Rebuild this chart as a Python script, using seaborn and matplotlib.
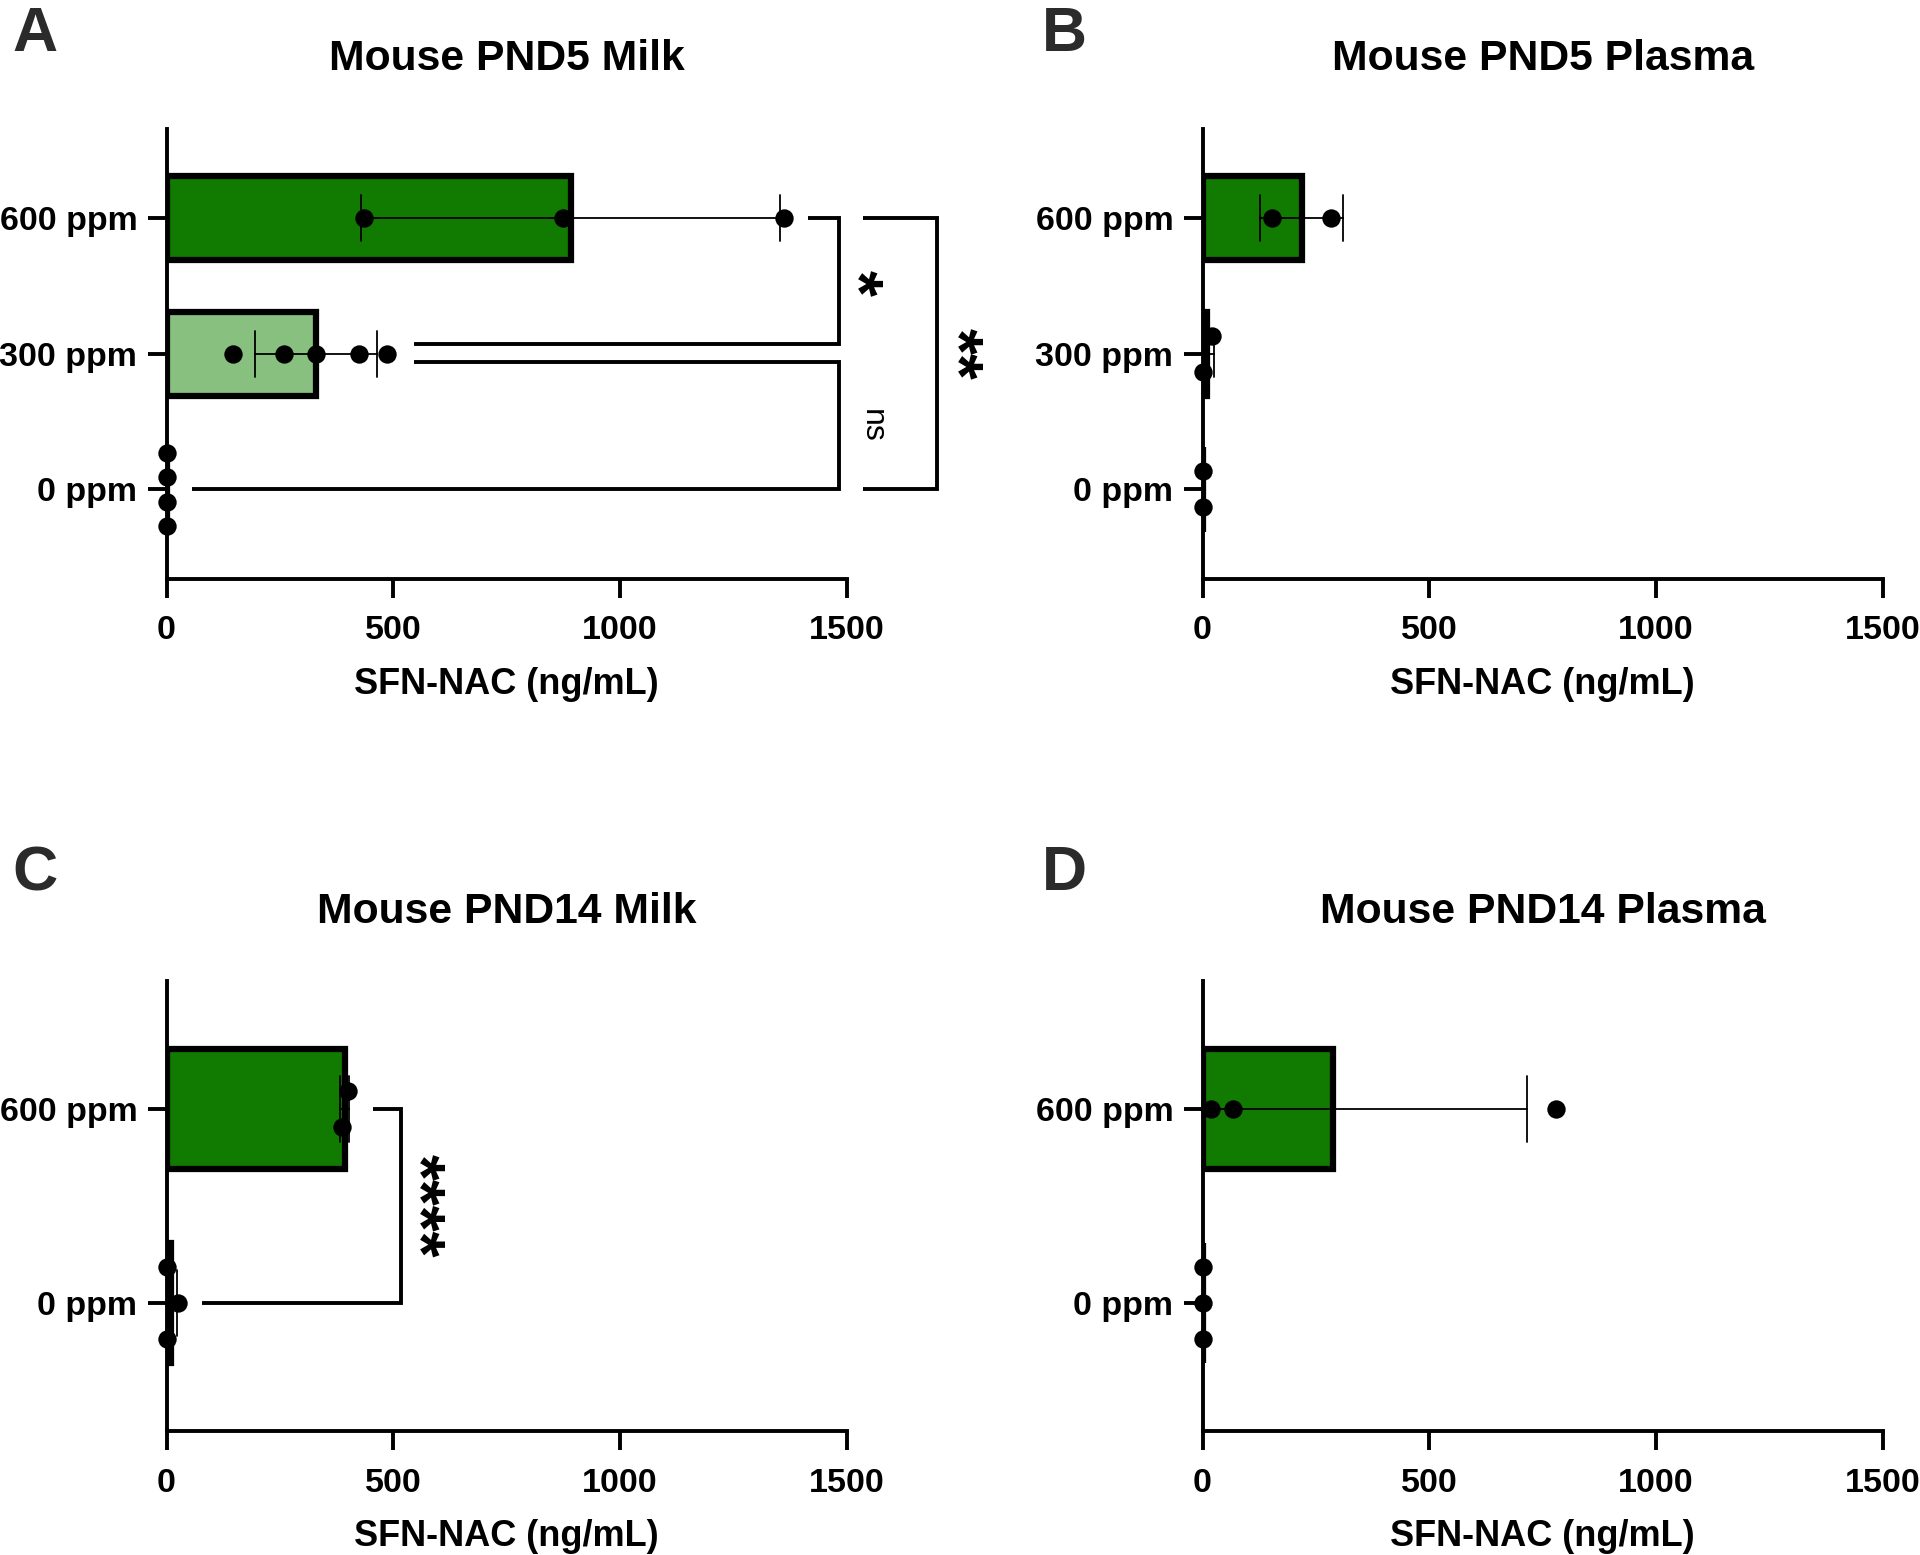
import numpy as np
import pandas as pd
import matplotlib
matplotlib.use("Agg")
import matplotlib.pyplot as plt
import matplotlib.transforms as mtransforms
import seaborn as sns

# ---------------- data ----------------
groups_3 = ["600 ppm", "300 ppm", "0 ppm"]
groups_2 = ["600 ppm", "0 ppm"]

a_600 = [436, 875, 1361]
a_300 = [146, 259, 329, 424, 486]
a_0 = [0, 0, 0, 0]

b_600 = [154, 283]
b_300 = [21, 0]
b_0 = [0, 0]

c_600 = [400, 386]
c_0 = [2, 25, 0]

d_600 = [19, 67, 780]
d_0 = [0, 0, 0]

titles = ["Mouse PND5 Milk", "Mouse PND5 Plasma", "Mouse PND14 Milk", "Mouse PND14 Plasma"]
panel_letters = ["A", "B", "C", "D"]
x_ticks = [0, 500, 1000, 1500]
x_label = "SFN-NAC (ng/mL)"

DARK = "#117a00"
LIGHT = "#88c080"
palette = {"600 ppm": DARK, "300 ppm": LIGHT, "0 ppm": DARK}


def make_df(groups, lists):
    rows = []
    for g, vals in zip(groups, lists):
        for v in vals:
            rows.append({"group": g, "value": v})
    return pd.DataFrame(rows)


panels = [
    (groups_3, [a_600, a_300, a_0]),
    (groups_3, [b_600, b_300, b_0]),
    (groups_2, [c_600, c_0]),
    (groups_2, [d_600, d_0]),
]

# ---------------- style ----------------
sns.set_style("ticks")
plt.rcParams["font.family"] = ["Liberation Sans", "DejaVu Sans"]
plt.rcParams["font.weight"] = "bold"
plt.rcParams["axes.titleweight"] = "bold"
plt.rcParams["axes.labelweight"] = "bold"

W, H = 1920, 1555
fig = plt.figure(figsize=(W / 100, H / 100), dpi=100)

left_cols = [166.5 / W, 1202.5 / W]
ax_w = (847 - 166.5) / W
top_rows = [128.6, 981]
ax_h_px = 450.4
rects = []
for r in range(2):
    for c in range(2):
        bottom = 1 - (top_rows[r] + ax_h_px) / H
        rects.append([left_cols[c], bottom, ax_w, ax_h_px / H])

SPINE = 2.8
axes = []
for i, (groups, lists) in enumerate(panels):
    ax = fig.add_axes(rects[i])
    axes.append(ax)
    df = make_df(groups, lists)
    sns.barplot(
        data=df, x="value", y="group", order=groups, hue="group",
        palette=palette, legend=False, saturation=1,
        errorbar="sd", capsize=0.34,
        err_kws={"color": "black", "linewidth": 1.3},
        edgecolor="black", linewidth=4.5, width=0.62, ax=ax,
    )
    n = len(groups)
    ax.set_ylim(n - 1 + 0.66, -0.66)
    ax.set_xlim(0, 1500)
    ax.set_xticks(x_ticks)
    ax.set_xticklabels([str(t) for t in x_ticks])

    # dot positions (spread overlapping values vertically, GraphPad style)
    px_x = ax.bbox.width / 1500.0
    px_y = ax.bbox.height / (n - 1 + 1.32)
    xs, ys = [], []
    for gi, vals in enumerate(lists):
        vals = list(vals)
        clusters = []
        for j, v in enumerate(vals):
            for cl in clusters:
                if any(abs(v - vals[k]) * px_x < 17 for k in cl):
                    cl.append(j)
                    break
            else:
                clusters.append([j])
        offs = np.zeros(len(vals))
        for cl in clusters:
            m = len(cl)
            if m > 1:
                step = min(36.0, 73.0 / (m - 1))
                for k, j in enumerate(cl):
                    offs[j] = (k - (m - 1) / 2) * step / px_y
        xs.extend(vals)
        ys.extend(gi + offs)
    sns.scatterplot(x=np.array(xs, float), y=np.array(ys, float), ax=ax,
                    s=175, color="black", edgecolor="black", linewidth=0,
                    clip_on=False, zorder=6, legend=False)
    ax.set_ylim(n - 1 + 0.66, -0.66)
    ax.set_xlim(0, 1500)
    ax.set_yticks(range(n))
    ax.set_yticklabels(groups)

    sns.despine(ax=ax)
    for s in ["left", "bottom"]:
        ax.spines[s].set_linewidth(SPINE)
        ax.spines[s].set_color("black")
    ax.tick_params(axis="both", direction="out", length=14, width=SPINE,
                   color="black", labelsize=24.5, labelcolor="black")
    ax.tick_params(axis="x", pad=12)
    ax.tick_params(axis="y", pad=7)
    for lbl in ax.get_xticklabels() + ax.get_yticklabels():
        lbl.set_fontweight("bold")
    ax.set_ylabel("")
    ax.set_xlabel(x_label, fontsize=26, fontweight="bold", labelpad=15, color="black")
    ax.set_title(titles[i], fontsize=30.7, fontweight="bold", pad=42, color="black")


def bracket(ax, y1, y2, x1, x2, xv):
    ax.plot([x1, xv, xv, x2], [y1, y1, y2, y2], color="black", lw=SPINE,
            clip_on=False, solid_joinstyle="miter", solid_capstyle="butt", zorder=4)


STAR_SIZE = 48
# asterisk glyph sits high in the line; after a clockwise turn that shows as a shift to the right
star_shift_px = -0.25 * STAR_SIZE * 100 / 72


def stars(ax, x, y, s):
    tr = mtransforms.offset_copy(ax.transData, fig=fig, x=star_shift_px, y=0, units="dots")
    ax.text(x, y, s, transform=tr, rotation=-90, ha="center", va="center",
            fontsize=STAR_SIZE, fontweight="bold", clip_on=False, color="black")


axA = axes[0]
bracket(axA, 0, 1 - 0.074, 1414, 545, 1482)
bracket(axA, 1 + 0.061, 2, 545, 57, 1482)
bracket(axA, 0, 2, 1536, 1536, 1698)
stars(axA, 1551, 0.48, "*")
stars(axA, 1771, 1.0, "**")
axA.text(1555, 1.53, "ns", rotation=-90, ha="center", va="center", fontsize=23,
         fontweight="normal", clip_on=False, color="black")

axC = axes[2]
bracket(axC, 0, 1, 456, 78, 518)
stars(axC, 587, 0.5, "****")

letter_pos = [(12, 51.4), (1042, 51.4), (12, 890), (1042, 890)]
for L, (px, py) in zip(panel_letters, letter_pos):
    fig.text(px / W, 1 - py / H, L, fontsize=45, fontweight="bold",
             color="#2b2b2b", ha="left", va="baseline")

fig.savefig("out.png", dpi=100, facecolor="white")
